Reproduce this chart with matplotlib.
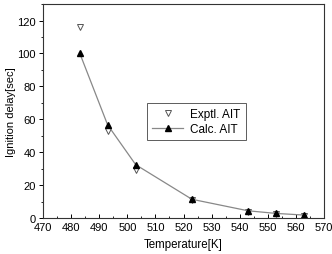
import matplotlib
matplotlib.use("Agg")
import matplotlib.pyplot as plt
from matplotlib.ticker import MultipleLocator

plt.rcParams['font.family'] = ['Liberation Sans', 'DejaVu Sans']

temps = [483, 493, 503, 523, 543, 553, 563]
exptl = [116, 52.6, 29.4, 11.0, 3.9, 2.2, 1.2]
calc = [100.5, 56.6, 32.4, 11.4, 4.4, 2.8, 1.8]

fig = plt.figure(figsize=(3.32, 2.55), dpi=100)
ax = fig.add_axes([0.1295, 0.141, 0.8465, 0.839])

ax.plot(temps, exptl, linestyle='none', marker='v', markersize=5,
        markerfacecolor='white', markeredgecolor='#555555', markeredgewidth=0.7,
        label='Exptl. AIT')
ax.plot(temps, calc, color='#888888', linewidth=0.9, marker='^', markersize=5,
        markerfacecolor='black', markeredgecolor='black', label='Calc. AIT')

ax.set_xlim(470, 570)
ax.set_ylim(0, 130)
ax.xaxis.set_major_locator(MultipleLocator(10))
ax.xaxis.set_minor_locator(MultipleLocator(5))
ax.yaxis.set_major_locator(MultipleLocator(20))
ax.yaxis.set_minor_locator(MultipleLocator(10))
ax.tick_params(axis='x', which='both', direction='in', labelsize=8, pad=3)
ax.tick_params(axis='y', which='both', direction='out', labelsize=8, pad=2)
ax.tick_params(which='major', length=3, width=0.7)
ax.tick_params(which='minor', length=1.8, width=0.6)
for s in ax.spines.values():
    s.set_linewidth(0.8)
    s.set_color('#333333')

ax.set_xlabel('Temperature[K]', fontsize=8.3, labelpad=4)
ax.set_ylabel('Ignition delay[sec]', fontsize=8, labelpad=1)

leg = ax.legend(loc='upper left', bbox_to_anchor=(0.37, 0.54), fontsize=8.5,
                frameon=True, fancybox=False, edgecolor='#333333',
                handlelength=2.6, borderpad=0.45, labelspacing=0.25, handletextpad=0.6,
                borderaxespad=0)
leg.get_frame().set_linewidth(0.7)

fig.savefig('out.png', dpi=100)
